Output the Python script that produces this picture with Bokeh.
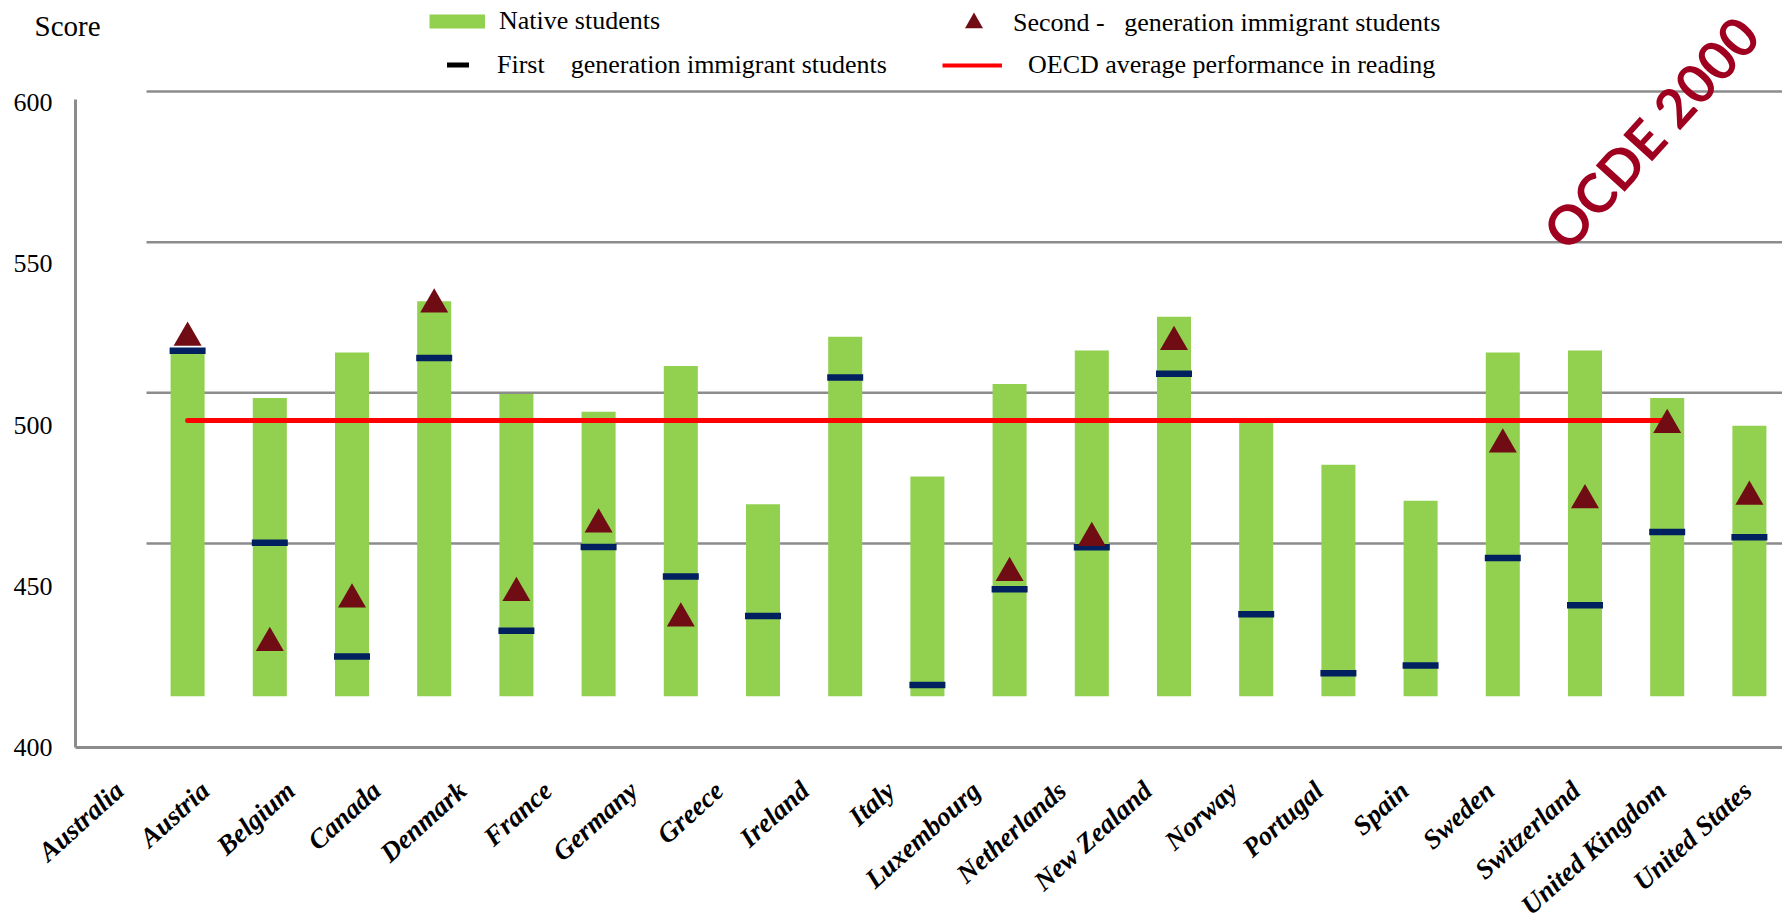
import numpy as np
from bokeh.plotting import figure
from bokeh.models import Range1d, FixedTicker, Label, Legend, LegendItem
from bokeh.embed import file_html
from bokeh.resources import INLINE

# ---------------- data ----------------
countries = ["Australia", "Austria", "Belgium", "Canada", "Denmark", "France",
             "Germany", "Greece", "Ireland", "Italy", "Luxembourg", "Netherlands",
             "New Zealand", "Norway", "Portugal", "Spain", "Sweden", "Switzerland",
             "United Kingdom", "United States"]
native = [522.5, 508.4, 522.5, 538.4, 509.6, 504.1, 518.3, 475.4, 527.4, 484.0,
          512.7, 523.1, 533.6, 500.6, 487.7, 476.5, 522.5, 523.1, 508.4, 499.8]
first_generation = [523.0, 463.5, 428.2, 520.8, 436.2, 462.2, 453.0, 440.8, 514.7, 419.4,
                    449.1, 462.1, 515.9, 441.3, 423.0, 425.4, 458.8, 444.1, 466.8, 465.2]
second_generation = [527.1, 432.4, 445.9, 537.4, 447.9, 469.2, 440.0, np.nan, np.nan, np.nan,
                     454.1, 465.0, 525.8, np.nan, np.nan, np.nan, 494.0, 476.7, 500.0, 477.8]
oecd_average = 501.4          # OECD average performance in reading
oecd_countries = countries[:-1]   # line drawn from Australia to United Kingdom
y_ticks = [400, 450, 500, 550, 600]
inner_grid = [450, 500, 550, 600]
bar_base = 415.9

# ---------------- styles ----------------
GREEN = "#92D050"
NAVY = "#002060"
DARKRED = "#700C14"
RED = "#FF0000"
GRAY = "#8C8C8C"
STAMP = "#A00020"
SERIF = "Liberation Serif"

W, H = 1782, 923
X_AXIS_AT = -0.51354      # position of the value axis on the label scale
X_END = 19.4094
p = figure(width=W, height=H, output_backend="svg", toolbar_location=None,
           x_range=Range1d(-1.38889, X_END), y_range=Range1d(345.43, 631.63),
           min_border_left=0, min_border_right=0, min_border_top=0,
           min_border_bottom=0)
p.extra_x_ranges = {"bars": Range1d(-1.7762, 19.9027)}
p.extra_y_ranges = {"grid": Range1d(323.89, 630.20)}
p.outline_line_color = None
p.xgrid.visible = False
p.ygrid.visible = False
p.background_fill_color = "white"
p.border_fill_color = "white"

n = len(countries)
bar_x = np.arange(n) + 0.5
idx = {c: i for i, c in enumerate(countries)}
oecd_x = [bar_x[idx[c]] for c in oecd_countries]
oecd_y = [oecd_average for _ in oecd_countries]

# inner plot-area gridlines
p.segment(x0=0, x1=n, y0=inner_grid, y1=inner_grid, x_range_name="bars",
          y_range_name="grid", line_color=GRAY, line_width=2.5)

# native students bars
p.vbar(x=bar_x, top=native, bottom=bar_base, width=0.414, x_range_name="bars",
       fill_color=GREEN, line_color=None)

# OECD average line
p.line(x=oecd_x, y=oecd_y, x_range_name="bars", line_color=RED, line_width=5,
       line_cap="round")

# first generation
p.scatter(x=bar_x, y=first_generation, marker="dash", size=36, line_width=6.5,
          line_color=NAVY, x_range_name="bars")

# second generation
p.scatter(x=bar_x, y=second_generation, marker="triangle", size=28,
          fill_color=DARKRED, line_color=None, x_range_name="bars")

# ---------------- axes ----------------
xa = p.xaxis[0]
xa.fixed_location = y_ticks[0]
xa.bounds = (X_AXIS_AT, X_END)
xa.ticker = FixedTicker(ticks=list(range(n)))
xa.major_label_overrides = {i: c for i, c in enumerate(countries)}
xa.major_label_orientation = 0.733
xa.major_label_standoff = 39
xa.major_label_text_font = SERIF
xa.major_label_text_font_style = "bold italic"
xa.major_label_text_font_size = "27px"
xa.major_label_text_color = "black"
xa.axis_line_color = GRAY
xa.axis_line_width = 3
xa.major_tick_line_color = None
xa.minor_tick_line_color = None
xa.major_tick_out = 0
xa.major_tick_in = 0

ya = p.yaxis[0]
ya.fixed_location = X_AXIS_AT
ya.ticker = FixedTicker(ticks=y_ticks)
ya.bounds = (400, 601)
ya.major_label_standoff = 23
ya.major_label_text_font = SERIF
ya.major_label_text_font_size = "26px"
ya.major_label_text_color = "black"
ya.axis_line_color = GRAY
ya.axis_line_width = 3
ya.major_tick_line_color = None
ya.minor_tick_line_color = None
ya.major_tick_out = 0
ya.major_tick_in = 0

# ---------------- texts ----------------
p.add_layout(Label(x=34, y=898, x_units="screen", y_units="screen", text="Score",
                   text_font=SERIF, text_font_size="29px", text_color="black",
                   text_align="left", text_baseline="middle"))
p.add_layout(Label(x=1650, y=791, x_units="screen", y_units="screen", text="OCDE 2000",
                   angle=0.835, text_font="Lato", text_font_style="bold",
                   text_font_size="54px", text_color=STAMP, text_align="center",
                   text_baseline="middle"))

# ---------------- legend ----------------
r_native = p.line(x=[np.nan], y=[np.nan], line_color=GREEN, line_width=14)
r_first = p.scatter(x=[np.nan], y=[np.nan], marker="dash", line_color="black", line_width=5)
r_second = p.scatter(x=[np.nan], y=[np.nan], marker="triangle", fill_color=DARKRED,
                     line_color=None)
r_oecd = p.line(x=[np.nan], y=[np.nan], line_color=RED, line_width=4)

def add_legend(label, renderer, loc, gw, gh, standoff):
    lg = Legend(items=[LegendItem(label=label, renderers=[renderer])], location=loc,
                glyph_width=gw, glyph_height=gh, label_height=gh, label_standoff=standoff,
                padding=0, margin=0, spacing=0, border_line_color=None,
                background_fill_alpha=0, label_text_font=SERIF,
                label_text_font_size="26px", label_text_color="black")
    p.add_layout(lg)

# legend boxes: (left, bottom) in canvas pixels measured from the frame's bottom-left
add_legend("Native students", r_native, (429, 886), 56, 32, 14)
add_legend("First\u00a0\u00a0\u00a0\u00a0generation immigrant students", r_first,
           (430, 831), 55, 55, 12)
add_legend("Second -\u00a0\u00a0\u00a0generation immigrant students", r_second,
           (951, 878), 45, 45, 17)
add_legend("OECD average performance in reading", r_oecd, (942, 842), 60, 32, 26)

open("out.html", "w").write(file_html(p, INLINE))
